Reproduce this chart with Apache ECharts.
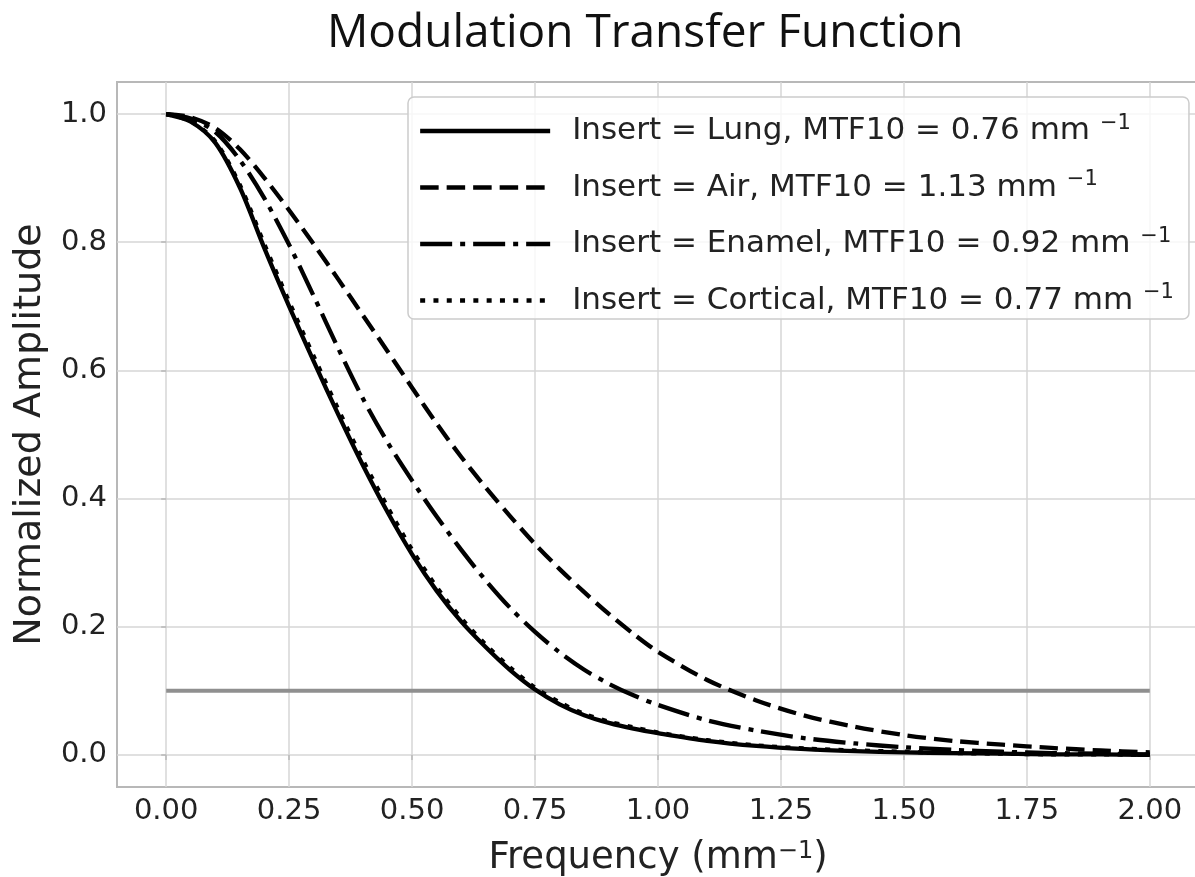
<!DOCTYPE html>
<html><head><meta charset="utf-8">
<script src="https://cdn.jsdelivr.net/npm/echarts@6/dist/echarts.min.js"></script>
<style>html,body{margin:0;padding:0;background:#fff}#c{width:1195px;height:877px}</style>
</head><body><div id="c"></div>
<script>
// ---- data ----
const freq = [0,0.05,0.1,0.15,0.2,0.25,0.3,0.35,0.4,0.45,0.5,0.55,0.6,0.65,0.7,0.75,0.8,0.85,0.9,0.95,1.0,1.1,1.2,1.3,1.4,1.5,1.6,1.7,1.8,1.9,2.0];
const lung     = [1.000,0.988,0.955,0.885,0.790,0.700,0.614,0.531,0.452,0.379,0.313,0.256,0.208,0.168,0.132,0.102,0.079,0.062,0.050,0.041,0.034,0.022,0.014,0.009,0.006,0.004,0.003,0.002,0.001,0.001,0.000];
const air      = [1.000,0.995,0.978,0.945,0.900,0.850,0.797,0.742,0.686,0.630,0.573,0.517,0.465,0.417,0.372,0.329,0.290,0.254,0.220,0.189,0.161,0.117,0.085,0.061,0.044,0.031,0.022,0.016,0.011,0.007,0.004];
const enamel   = [1.000,0.993,0.972,0.928,0.868,0.796,0.716,0.634,0.556,0.488,0.428,0.372,0.320,0.272,0.229,0.192,0.160,0.133,0.111,0.093,0.078,0.054,0.038,0.026,0.018,0.012,0.008,0.005,0.003,0.002,0.001];
const cortical = [1.000,0.989,0.957,0.889,0.796,0.707,0.622,0.539,0.460,0.387,0.320,0.262,0.213,0.172,0.136,0.105,0.082,0.064,0.052,0.043,0.035,0.023,0.015,0.010,0.007,0.005,0.003,0.002,0.001,0.001,0.000];
const thresholdX = [0, 2];
const thresholdY = [0.1, 0.1];
const seriesNames = ['Insert = Lung, MTF10 = 0.76 mm', 'Insert = Air, MTF10 = 1.13 mm', 'Insert = Enamel, MTF10 = 0.92 mm', 'Insert = Cortical, MTF10 = 0.77 mm'];
const xTicks = [0,0.25,0.5,0.75,1.0,1.25,1.5,1.75,2.0];
const yTicks = [0,0.2,0.4,0.6,0.8,1.0];
const titleText = 'Modulation Transfer Function';
const xName = 'Frequency (mm';
const yName = 'Normalized Amplitude';

const pair = (xs, ys) => xs.map((x, i) => [x, ys[i]]);
const LW = 4.3;
const mk = (name, ys, dash, z) => ({
  name, type: 'line', data: pair(freq, ys), symbol: 'none', showSymbol: false,
  smooth: 0.3, z, silent: true, animation: false,
  lineStyle: { color: '#000', width: LW, type: dash, cap: 'butt', join: 'round' },
  itemStyle: { color: '#000' }, emphasis: { disabled: true }
});

const chart = echarts.init(document.getElementById('c'), null, { renderer: 'canvas' });
chart.setOption({
  animation: false,
  backgroundColor: '#fff',
  title: {
    text: titleText, left: 322, top: 6,
    textStyle: { fontFamily: 'Open Sans', fontSize: 46, fontWeight: 'normal', color: '#111' }
  },
  grid: { left: 117, top: 82, width: 1082, height: 705, outerBoundsMode: 'none', containLabel: false,
    show: true, borderColor: '#b8b8b8', borderWidth: 2, backgroundColor: 'transparent' },
  legend: {
    data: seriesNames, orient: 'vertical', left: 408, top: 97,
    padding: [16, 15, 3, 10], itemGap: 23, itemWidth: 130, itemHeight: 20,
    backgroundColor: 'rgba(255,255,255,0.8)', borderColor: '#cccccc', borderWidth: 1.5, borderRadius: 6,
    lineStyle: { width: LW },
    itemStyle: { color: 'rgba(0,0,0,0)', borderColor: 'rgba(0,0,0,0)', borderWidth: 0, opacity: 0 },
    selectedMode: false,
    formatter: n => '{t|' + n + ' }{s|−1}',
    textStyle: {
      padding: [0, 0, 0, 17],
      rich: {
        t: { fontFamily: 'DejaVu Sans', fontSize: 31, lineHeight: 36, color: '#222' },
        s: { fontFamily: 'DejaVu Sans', fontSize: 21, lineHeight: 36, verticalAlign: 'top', color: '#222' }
      }
    }
  },
  xAxis: {
    type: 'value', min: -0.1, max: 2.1,
    name: xName + '{s|−1})', nameLocation: 'middle', nameGap: 53,
    nameTextStyle: { fontFamily: 'DejaVu Sans', fontSize: 37, color: '#222',
      rich: { s: { fontFamily: 'DejaVu Sans', fontSize: 24, verticalAlign: 'top', color: '#222' } } },
    axisLine: { show: false },
    axisTick: { show: true, customValues: xTicks, length: 5, lineStyle: { color: '#b8b8b8', width: 1.5 } },
    axisLabel: { customValues: xTicks, margin: 10, fontFamily: 'DejaVu Sans', fontSize: 29, color: '#222',
      formatter: v => v.toFixed(2) },
    splitLine: { show: true, lineStyle: { color: '#d6d6d6', width: 1.5 } }
  },
  yAxis: {
    type: 'value', min: -0.05, max: 1.05,
    name: yName, nameLocation: 'middle', nameGap: 68, nameRotate: 90,
    nameTextStyle: { fontFamily: 'DejaVu Sans', fontSize: 38, color: '#222' },
    axisLine: { show: false },
    axisTick: { show: true, customValues: yTicks, length: 5, lineStyle: { color: '#b8b8b8', width: 1.5 } },
    axisLabel: { customValues: yTicks, margin: 10, fontFamily: 'DejaVu Sans', fontSize: 29, color: '#222',
      formatter: v => v.toFixed(1) },
    splitLine: { show: true, lineStyle: { color: '#d6d6d6', width: 1.5 } }
  },
  series: [
    { name: 'MTF10 threshold', type: 'line', data: pair(thresholdX, thresholdY), symbol: 'none', z: 1, silent: true,
      lineStyle: { color: '#8f8f8f', width: 4 }, emphasis: { disabled: true } },
    mk(seriesNames[0], lung, 'solid', 3),
    mk(seriesNames[1], air, [18.5, 8], 3),
    mk(seriesNames[2], enamel, [32, 8, 5, 8], 3),
    mk(seriesNames[3], cortical, [5, 8.3], 4)
  ]
});
</script></body></html>
